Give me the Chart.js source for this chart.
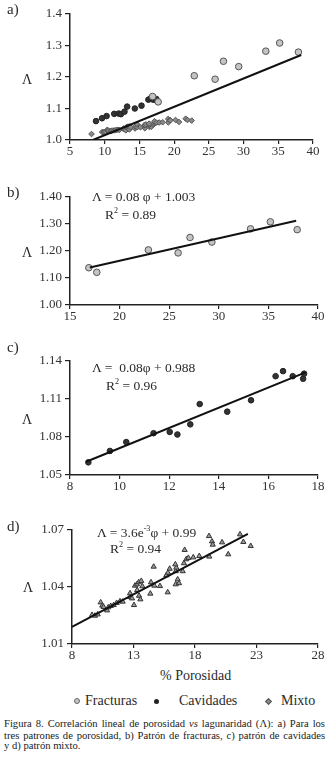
<!DOCTYPE html>
<html>
<head>
<meta charset="utf-8">
<script src="https://cdn.jsdelivr.net/npm/chart.js@4.4.1/dist/chart.umd.min.js"></script>
<style>
  body { margin: 0; background: #fff; width: 332px; height: 761px; position: relative; overflow: hidden;
         font-family: "Liberation Serif", "Times New Roman", serif; color: #2a2a2a; }
  canvas { position: absolute; left: 0; }
  .t { position: absolute; white-space: nowrap; line-height: 1; }
  .cap { position: absolute; left: 4px; width: 321px; font-size: 10.6px; line-height: 1; color: #1a1a1a; text-align: justify; text-align-last: justify; }
  sup { font-size: 0.6em; vertical-align: 0.7em; line-height: 0; }
  .mk { position: absolute; box-sizing: border-box; }
</style>
</head>
<body>

<canvas id="chA" width="332" height="165" style="top:0px"></canvas>
<canvas id="chB" width="332" height="165" style="top:165px"></canvas>
<canvas id="chC" width="332" height="165" style="top:330px"></canvas>
<canvas id="chD" width="332" height="170" style="top:495px"></canvas>

<div class="t" style="left:7px;top:2px;font-size:15px">a)</div>
<div class="t" style="left:7px;top:185px;font-size:15px">b)</div>
<div class="t" style="left:7px;top:340px;font-size:15px">c)</div>
<div class="t" style="left:7px;top:519px;font-size:15px">d)</div>

<div class="t" style="left:22px;top:73px;font-size:14px">Λ</div>
<div class="t" style="left:22px;top:246px;font-size:14px">Λ</div>
<div class="t" style="left:22px;top:413px;font-size:14px">Λ</div>
<div class="t" style="left:23px;top:581px;font-size:14px">Λ</div>

<div class="t" style="left:92px;top:190px;font-size:13.5px">Λ = 0.08 φ + 1.003</div>
<div class="t" style="left:105px;top:208px;font-size:13.5px">R<sup>2</sup> = 0.89</div>
<div class="t" style="left:92px;top:361px;font-size:13.5px">Λ =&nbsp; 0.08φ + 0.988</div>
<div class="t" style="left:106px;top:379px;font-size:13.5px">R<sup>2</sup> = 0.96</div>
<div class="t" style="left:97px;top:526px;font-size:13.5px">Λ = 3.6e<sup>-3</sup>φ + 0.99</div>
<div class="t" style="left:110px;top:542px;font-size:13.5px">R<sup>2</sup> = 0.94</div>

<div class="t" style="left:160px;top:669px;font-size:14px">% Porosidad</div>

<div class="mk" style="left:74px;top:698px;width:6px;height:6px;border-radius:50%;background:#c4c4c4;border:1px solid #666"></div>
<div class="t" style="left:85px;top:694px;font-size:14px">Fracturas</div>
<div class="mk" style="left:154px;top:698.5px;width:5px;height:5px;border-radius:50%;background:#222"></div>
<div class="t" style="left:179px;top:694px;font-size:14px">Cavidades</div>
<div class="mk" style="left:265.5px;top:698.5px;width:5px;height:5px;transform:rotate(45deg);background:#8a8a8a;border:1px solid #555"></div>
<div class="t" style="left:281px;top:694px;font-size:14px">Mixto</div>

<div class="cap" style="top:719px">Figura 8. Correlación lineal de porosidad <i>vs</i> lagunaridad (Λ): a) Para los</div>
<div class="cap" style="top:730.5px">tres patrones de porosidad, b) Patrón de fracturas, c) patrón de cavidades</div>
<div class="cap" style="top:741px;text-align-last:left">y d) patrón mixto.</div>

<script>
// porosidad (%) vs lagunaridad
const fracturasX = [16.9, 17.7, 22.9, 25.9, 27.1, 29.3, 33.2, 35.2, 37.9];
const fracturasY = [1.138, 1.121, 1.204, 1.193, 1.250, 1.233, 1.282, 1.308, 1.279];

const cavidadesX = [8.74, 9.61, 10.27, 11.37, 12.02, 12.33, 12.85, 13.23, 14.34, 15.30, 16.29, 16.59, 16.98, 17.40, 17.44];
const cavidadesY = [1.060, 1.069, 1.076, 1.083, 1.084, 1.082, 1.090, 1.106, 1.100, 1.109, 1.128, 1.132, 1.128, 1.126, 1.130];

const mixtoX = [9.63, 9.87, 10.09, 10.33, 10.46, 10.57, 10.85, 10.95, 11.15, 11.39, 11.63, 11.9, 12.12, 12.72,
  12.72, 12.88, 13.04, 13.12, 13.28, 13.3, 13.42, 13.63, 13.45, 13.56, 13.72, 14.37, 14.42, 14.69, 15.15, 15.78,
  14.64, 15.67, 15.8, 15.94, 16.43, 16.59, 16.7, 16.43, 16.48, 16.4, 17.0, 17.1, 17.29, 17.16, 17.46, 17.86,
  18.35, 19.16, 19.14, 19.38, 19.44, 20.2, 20.7, 21.66, 21.93, 22.53];
const mixtoY = [1.0253, 1.0249, 1.0256, 1.0319, 1.0302, 1.0295, 1.0277, 1.0293, 1.0300, 1.0305, 1.0316, 1.0325, 1.0323, 1.0347,
  1.0367, 1.0340, 1.0305, 1.0407, 1.0414, 1.0384, 1.0425, 1.0432, 1.0354, 1.0335, 1.0404, 1.0365, 1.0425, 1.0407, 1.0405, 1.0372,
  1.0507, 1.0462, 1.0475, 1.0496, 1.0414, 1.0440, 1.0420, 1.0483, 1.0502, 1.0519, 1.0483, 1.0525, 1.0546, 1.0595, 1.0553, 1.0556,
  1.0563, 1.0560, 1.0668, 1.0640, 1.0623, 1.0635, 1.0572, 1.0677, 1.0637, 1.0616];
// punto suelto que solo aparece en a)
const mixtoSoloX = [8.1];
const mixtoSoloY = [1.019];

// rectas de ajuste (extremos)
const rectaAX = [8.3, 38.3], rectaAY = [1.0, 1.27];
const rectaBX = [17.0, 37.8], rectaBY = [1.139, 1.312];
const rectaCX = [8.65, 17.5], rectaCY = [1.0605, 1.131];
const rectaDX = [8.0, 22.3], rectaDY = [1.019, 1.068];

// ticks
const ticksAX = [5, 10, 15, 20, 25, 30, 35, 40];
const ticksAY = [1.0, 1.1, 1.2, 1.3, 1.4];
const ticksBX = [15, 20, 25, 30, 35, 40];
const ticksBY = [1.0, 1.1, 1.2, 1.3, 1.4];
const ticksCX = [8, 10, 12, 14, 16, 18];
const ticksCY = [1.05, 1.08, 1.11, 1.14];
const ticksDX = [8, 13, 18, 23, 28];
const ticksDY = [1.01, 1.04, 1.07];

function pts(xs, ys) {
  return xs.map((x, i) => ({ x: x, y: ys[i] }));
}

function axis(vals, dec, isY, size) {
  return {
    type: "linear",
    min: vals[0],
    max: vals[vals.length - 1],
    afterBuildTicks: s => { s.ticks = vals.map(v => ({ value: v })); },
    afterFit: s => { if (isY) s.width = size; else s.height = size; },
    ticks: {
      color: "#333",
      font: { family: "'Liberation Serif', 'Times New Roman', serif", size: 13 },
      padding: isY ? 3 : 0,
      autoSkip: false,
      maxRotation: 0,
      callback: v => v.toFixed(dec)
    },
    grid: { drawOnChartArea: false, drawTicks: true, tickLength: isY ? 5 : 4, color: "#222", lineWidth: 1.2 },
    border: { display: true, color: "#222", width: 1.5 }
  };
}

function recta(xs, ys) {
  return { data: pts(xs, ys), showLine: true, borderColor: "#111", borderWidth: 2, pointRadius: 0, fill: false };
}

const fracturasStyle = { pointStyle: "circle", pointRadius: 3.3, backgroundColor: "#c4c4c4", borderColor: "#555", borderWidth: 1 };
const cavidadesStyle = { pointStyle: "circle", pointRadius: 2.8, backgroundColor: "#333", borderColor: "#222", borderWidth: 1 };

function makeChart(id, datasets, xAxis, yAxis, padding) {
  new Chart(document.getElementById(id), {
    type: "scatter",
    data: { datasets: datasets },
    options: {
      responsive: false,
      animation: false,
      events: [],
      layout: { padding: padding },
      plugins: { legend: { display: false }, tooltip: { enabled: false } },
      scales: { x: xAxis, y: yAxis }
    }
  });
}

// a) los tres patrones
makeChart("chA", [
  recta(rectaAX, rectaAY),
  Object.assign({ data: pts(fracturasX, fracturasY) }, fracturasStyle),
  Object.assign({ data: pts(cavidadesX, cavidadesY) }, cavidadesStyle),
  { data: pts(mixtoX.concat(mixtoSoloX), mixtoY.concat(mixtoSoloY)), pointStyle: "rectRot", pointRadius: 2.8,
    backgroundColor: "#8a8a8a", borderColor: "#555", borderWidth: 1 }
], axis(ticksAX, 0, false, 25), axis(ticksAY, 1, true, 70), { top: 14, right: 19, left: 0, bottom: 0 });

// b) fracturas
makeChart("chB", [
  recta(rectaBX, rectaBY),
  Object.assign({ data: pts(fracturasX, fracturasY) }, fracturasStyle)
], axis(ticksBX, 0, false, 25), axis(ticksBY, 2, true, 70), { top: 32, right: 14, left: 0, bottom: 0 });

// c) cavidades
makeChart("chC", [
  recta(rectaCX, rectaCY),
  Object.assign({ data: pts(cavidadesX, cavidadesY) }, cavidadesStyle)
], axis(ticksCX, 0, false, 20), axis(ticksCY, 2, true, 70), { top: 31, right: 14, left: 0, bottom: 0 });

// d) mixto
makeChart("chD", [
  recta(rectaDX, rectaDY),
  { data: pts(mixtoX, mixtoY), pointStyle: "triangle", pointRadius: 3, backgroundColor: "#9a9a9a", borderColor: "#333", borderWidth: 1 }
], axis(ticksDX, 0, false, 21), axis(ticksDY, 2, true, 72), { top: 35, right: 14, left: 0, bottom: 0 });
</script>
</body>
</html>
